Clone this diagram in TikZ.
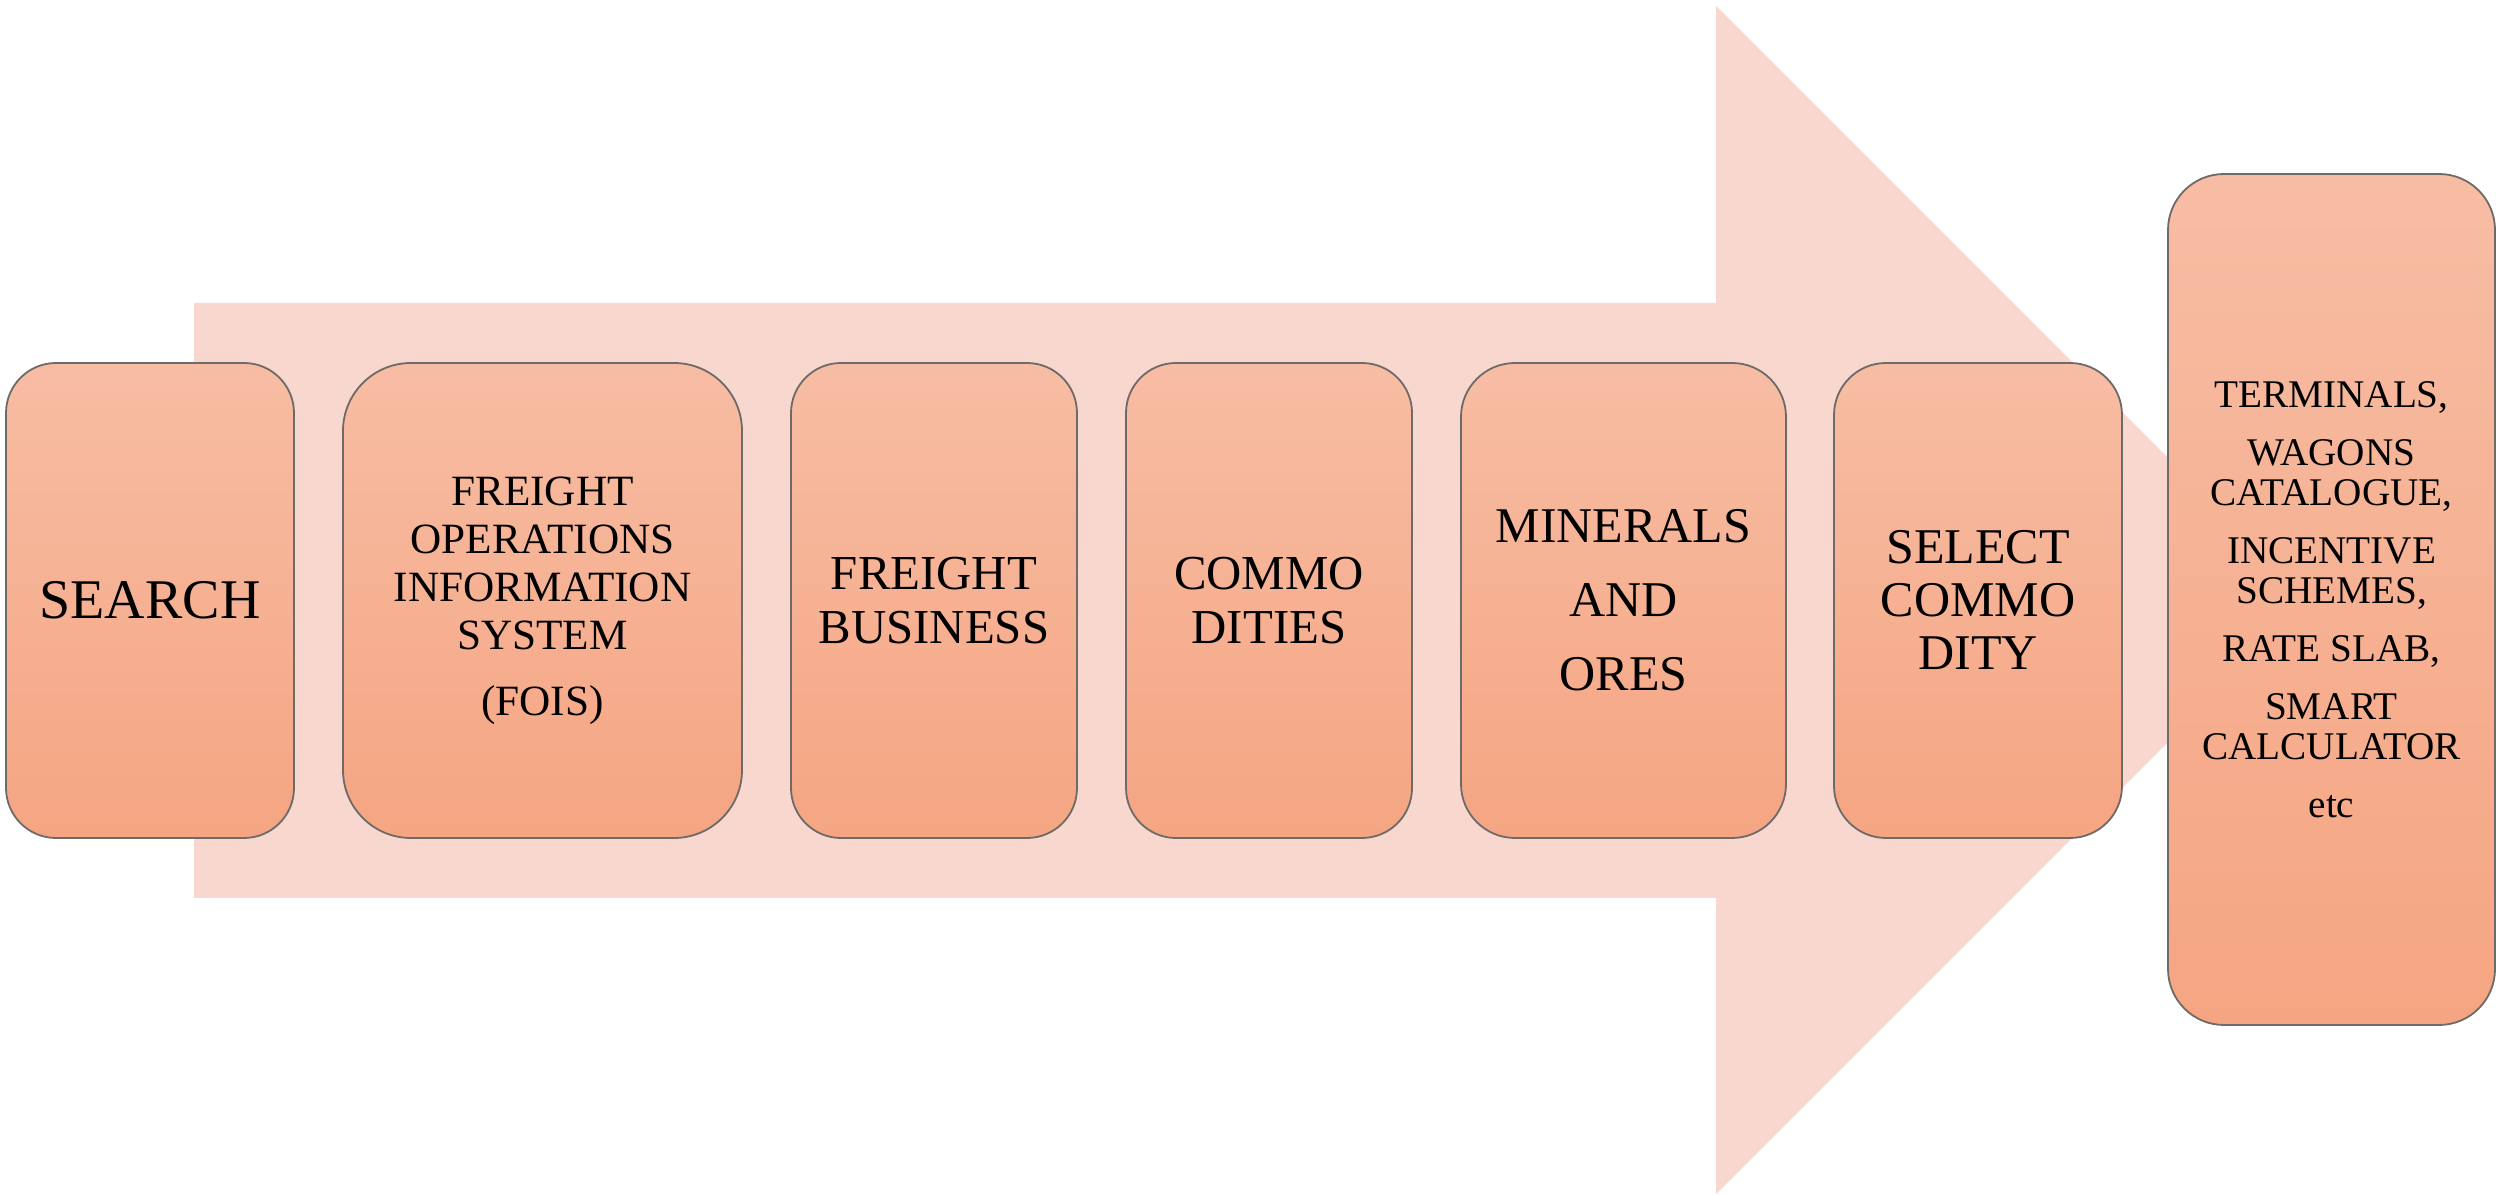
\documentclass[tikz,border=0pt]{standalone}
\usepackage{fontspec}
\setmainfont{Liberation Serif}
\definecolor{arrowfill}{HTML}{F8D8CE}
\definecolor{boxtop}{HTML}{F7BDA4}
\definecolor{boxbot}{HTML}{F5A582}
\definecolor{boxline}{HTML}{6E6A68}
\tikzset{
  arrowbg/.style={fill=arrowfill, draw=none},
  stepbox/.style={draw=boxline, line width=0.45pt, top color=boxtop, bottom color=boxbot,
    rectangle, align=center, inner sep=0pt, text=black},
}
\newcommand{\fs}[2]{\fontsize{#1}{#2}\selectfont}
\begin{document}
\begin{tikzpicture}[x=0.25pt,y=-0.25pt]
\useasboundingbox (0,0) rectangle (2496,1196);
% big arrow
\path[arrowbg] (194,303) -- (1716,303) -- (1716,6) -- (2310,600) -- (1716,1194) -- (1716,898) -- (194,898) -- cycle;
% boxes
\node[stepbox, minimum width=72pt, minimum height=118.75pt, rounded corners=12.5pt, font=\fs{14}{16}] (b1) at (150,600.5) {SEARCH};
\node[stepbox, minimum width=99.75pt, minimum height=118.75pt, rounded corners=17pt, font=\fs{10.8}{12}] (b2) at (542.5,600.5)
  {FREIGHT\\OPERATIONS\\INFORMATION\\SYSTEM\\[4.5pt](FOIS)};
\node[stepbox, minimum width=71.5pt, minimum height=118.75pt, rounded corners=12.5pt, font=\fs{12.2}{13.5}] (b3) at (934,600.5)
  {FREIGHT\\BUSINESS};
\node[stepbox, minimum width=71.5pt, minimum height=118.75pt, rounded corners=12.5pt, font=\fs{12.2}{13.5}] (b4) at (1269,600.5)
  {COMMO\\DITIES};
\node[stepbox, minimum width=81.25pt, minimum height=118.75pt, rounded corners=13.5pt, font=\fs{12.5}{18.5}] (b5) at (1623.5,600.5)
  {MINERALS\\AND\\ORES};
\node[stepbox, minimum width=72pt, minimum height=118.75pt, rounded corners=13pt, font=\fs{12.5}{13.25}] (b6) at (1978,600.5)
  {SELECT\\COMMO\\DITY};
\node[stepbox, minimum width=81.75pt, minimum height=212.75pt, rounded corners=14pt, font=\fs{9.8}{10}] (b7) at (2331.5,599.5)
  {TERMINALS,\\[4.5pt]WAGONS\\CATALOGUE,\\[4.5pt]INCENTIVE\\SCHEMES,\\[4.5pt]RATE SLAB,\\[4.5pt]SMART\\CALCULATOR\\[4.5pt]etc};
\end{tikzpicture}
\end{document}
